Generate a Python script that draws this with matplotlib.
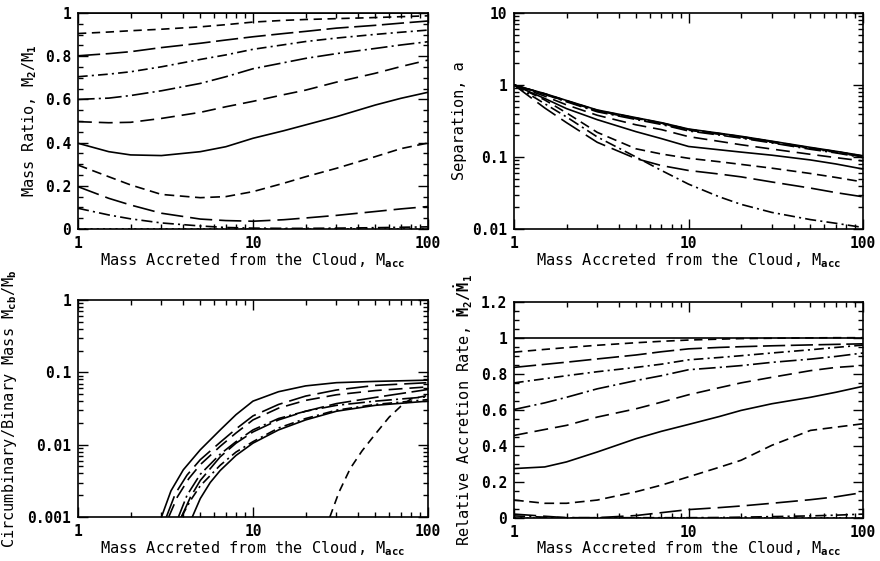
import matplotlib
matplotlib.use("Agg")
import matplotlib.pyplot as plt
from matplotlib.ticker import MultipleLocator, NullFormatter

plt.rcParams['font.family'] = ['DejaVu Sans Mono', 'DejaVu Sans']
plt.rcParams['font.weight'] = 'bold'
plt.rcParams['font.size'] = 11
plt.rcParams['mathtext.fontset'] = 'custom'
plt.rcParams['mathtext.rm'] = 'DejaVu Sans Mono:bold'
plt.rcParams['mathtext.it'] = 'DejaVu Sans Mono:bold'
plt.rcParams['mathtext.bf'] = 'DejaVu Sans Mono:bold'
plt.rcParams['lines.scale_dashes'] = False

# mass accreted from the cloud (shared x grid)
m_acc = [1, 1.5, 2, 3, 5, 7, 10, 15, 20, 30, 50, 70, 100]
q_start = ['0.0', '0.1', '0.2', '0.3', '0.4', '0.5', '0.6', '0.7', '0.8', '0.9', '1.0']

# mass ratio M2/M1
q_00 = [0, 0, 0, 0, 0, 0, 0, 0, 0, 0, 0, 0, 0]
q_01 = [0.096, 0.065, 0.047, 0.028, 0.014, 0.007, 0.004, 0.003, 0.003, 0.004, 0.006, 0.008, 0.010]
q_02 = [0.196, 0.142, 0.111, 0.073, 0.046, 0.039, 0.036, 0.043, 0.051, 0.063, 0.081, 0.093, 0.104]
q_03 = [0.296, 0.242, 0.204, 0.160, 0.145, 0.150, 0.173, 0.212, 0.242, 0.281, 0.335, 0.372, 0.398]
q_04 = [0.397, 0.358, 0.343, 0.340, 0.358, 0.381, 0.420, 0.455, 0.482, 0.520, 0.574, 0.605, 0.633]
q_05 = [0.497, 0.492, 0.494, 0.512, 0.540, 0.566, 0.591, 0.622, 0.643, 0.680, 0.721, 0.752, 0.782]
q_06 = [0.600, 0.606, 0.618, 0.640, 0.674, 0.705, 0.742, 0.770, 0.790, 0.812, 0.836, 0.852, 0.867]
q_07 = [0.705, 0.717, 0.728, 0.751, 0.785, 0.806, 0.832, 0.853, 0.868, 0.884, 0.901, 0.911, 0.921]
q_08 = [0.802, 0.812, 0.821, 0.840, 0.860, 0.875, 0.890, 0.905, 0.915, 0.930, 0.943, 0.953, 0.963]
q_09 = [0.905, 0.912, 0.918, 0.925, 0.936, 0.946, 0.958, 0.966, 0.970, 0.974, 0.979, 0.983, 0.987]
q_10 = [1, 1, 1, 1, 1, 1, 1, 1, 1, 1, 1, 1, 1]

# separation a
a_01 = [1, 0.55, 0.36, 0.19, 0.10, 0.065, 0.042, 0.028, 0.022, 0.017, 0.0135, 0.012, 0.0105]
a_02 = [1, 0.48, 0.30, 0.16, 0.095, 0.076, 0.065, 0.058, 0.053, 0.045, 0.037, 0.032, 0.028]
a_03 = [1, 0.62, 0.41, 0.22, 0.13, 0.11, 0.096, 0.086, 0.079, 0.070, 0.059, 0.052, 0.045]
a_04 = [1, 0.65, 0.47, 0.33, 0.225, 0.18, 0.140, 0.126, 0.117, 0.106, 0.091, 0.080, 0.068]
a_05 = [1, 0.70, 0.53, 0.38, 0.28, 0.24, 0.192, 0.165, 0.148, 0.129, 0.109, 0.098, 0.088]
a_06 = [1, 0.74, 0.585, 0.425, 0.332, 0.283, 0.230, 0.202, 0.183, 0.157, 0.128, 0.114, 0.098]
a_07 = [1, 0.745, 0.595, 0.435, 0.340, 0.290, 0.236, 0.207, 0.187, 0.160, 0.131, 0.116, 0.100]
a_08 = [1, 0.75, 0.60, 0.44, 0.345, 0.295, 0.240, 0.210, 0.190, 0.163, 0.133, 0.118, 0.102]
a_09 = [1, 0.755, 0.605, 0.445, 0.348, 0.297, 0.242, 0.212, 0.192, 0.164, 0.134, 0.119, 0.103]
a_10 = [1, 0.76, 0.61, 0.45, 0.352, 0.300, 0.245, 0.214, 0.194, 0.166, 0.136, 0.120, 0.104]

# circumbinary / binary mass (each curve starts at its own M_acc)
cb_x_1 = [3.0, 3.4, 4, 5, 6.5, 8, 10, 14, 20, 30, 50, 100]
cb_1 = [0.001, 0.0023, 0.0045, 0.0085, 0.016, 0.026, 0.040, 0.054, 0.065, 0.072, 0.075, 0.078]
cb_x_2 = [3.2, 3.6, 4.2, 5, 6.5, 8, 10, 14, 20, 30, 50, 100]
cb_2 = [0.001, 0.0021, 0.0038, 0.0062, 0.0108, 0.0165, 0.025, 0.036, 0.047, 0.057, 0.066, 0.072]
cb_x_3 = [3.3, 3.7, 4.3, 5, 6.5, 8, 10, 14, 20, 30, 50, 100]
cb_3 = [0.001, 0.0019, 0.0034, 0.0053, 0.0095, 0.0145, 0.022, 0.032, 0.041, 0.049, 0.056, 0.063]
cb_x_4 = [3.75, 4.2, 5, 6.5, 8, 10, 14, 20, 30, 50, 100]
cb_4 = [0.001, 0.002, 0.0039, 0.0074, 0.011, 0.016, 0.023, 0.029, 0.035, 0.040, 0.046]
cb_x_5 = [3.9, 4.4, 5, 6.5, 8, 10, 14, 20, 30, 50, 100]
cb_5 = [0.001, 0.0019, 0.0032, 0.0068, 0.0105, 0.015, 0.022, 0.029, 0.037, 0.045, 0.058]
cb_x_6 = [3.9, 4.4, 5, 6.5, 8, 10, 14, 20, 30, 50, 100]
cb_6 = [0.001, 0.0017, 0.0027, 0.0052, 0.0079, 0.011, 0.017, 0.023, 0.030, 0.036, 0.042]
cb_x_7 = [4.5, 5, 5.7, 6.5, 8, 10, 14, 20, 30, 50, 100]
cb_7 = [0.001, 0.0018, 0.003, 0.0044, 0.0071, 0.0105, 0.016, 0.022, 0.029, 0.035, 0.040]
cb_x_8 = [27.5, 31, 36, 42, 50, 60, 70, 80, 100]
cb_8 = [0.001, 0.0022, 0.0047, 0.0082, 0.014, 0.024, 0.034, 0.043, 0.048]
cb_start = ['0.4', '0.2', '0.5', '0.6', '0.8', '0.7', '1.0', '0.9']

# relative accretion rate
r_00 = [0, 0, 0, 0, 0, 0, 0, 0, 0, 0, 0, 0, 0]
r_01 = [0.010, 0.003, 0.0, 0.0, 0.0, 0.0, 0.0, 0.001, 0.003, 0.006, 0.010, 0.014, 0.020]
r_02 = [0.020, 0.008, 0.0, 0.0, 0.012, 0.028, 0.045, 0.056, 0.065, 0.080, 0.100, 0.116, 0.140]
r_03 = [0.098, 0.080, 0.080, 0.098, 0.144, 0.181, 0.227, 0.280, 0.319, 0.402, 0.485, 0.503, 0.522]
r_04 = [0.273, 0.282, 0.310, 0.365, 0.439, 0.480, 0.518, 0.562, 0.596, 0.633, 0.669, 0.697, 0.730]
r_05 = [0.457, 0.490, 0.513, 0.559, 0.605, 0.642, 0.683, 0.722, 0.749, 0.780, 0.817, 0.835, 0.845]
r_06 = [0.601, 0.638, 0.669, 0.716, 0.762, 0.789, 0.822, 0.835, 0.845, 0.863, 0.881, 0.896, 0.915]
r_07 = [0.749, 0.772, 0.789, 0.811, 0.835, 0.853, 0.877, 0.890, 0.900, 0.915, 0.933, 0.946, 0.959]
r_08 = [0.835, 0.852, 0.864, 0.882, 0.904, 0.922, 0.938, 0.946, 0.950, 0.955, 0.960, 0.963, 0.966]
r_09 = [0.920, 0.935, 0.945, 0.958, 0.972, 0.980, 0.987, 0.992, 0.995, 0.997, 0.999, 1.0, 1.0]
r_10 = [1, 1, 1, 1, 1, 1, 1, 1, 1, 1, 1, 1, 1]

# line style for each starting mass ratio
styles = {
    '1.0': '-',
    '0.9': (0, (6, 4)),
    '0.8': (0, (16, 4)),
    '0.7': (0, (7, 3, 1.5, 3)),
    '0.6': (0, (12, 3, 1.5, 3)),
    '0.5': (0, (10, 5)),
    '0.4': '-',
    '0.3': (0, (7, 4)),
    '0.2': (0, (16, 5)),
    '0.1': (0, (8, 3, 1.5, 3)),
    '0.0': (0, (1.5, 3)),
}
LW = 1.2
xlab = r'Mass Accreted from the Cloud, M$_{\rm acc}$'

fig = plt.figure(figsize=(8.8, 5.61), dpi=100)
ax_q = fig.add_axes([0.0886, 0.5918, 0.3977, 0.385])
ax_a = fig.add_axes([0.5841, 0.5918, 0.3966, 0.385])
ax_cb = fig.add_axes([0.0886, 0.0784, 0.3977, 0.3868])
ax_r = fig.add_axes([0.5841, 0.0772, 0.3966, 0.385])


def style_axes(ax):
    ax.set_xscale('log')
    ax.set_xlim(1, 100)
    ax.set_xticks([1, 10, 100], ['1', '10', '100'])
    ax.xaxis.set_minor_formatter(NullFormatter())
    ax.tick_params(which='both', direction='in', top=True, right=True, width=1.0)
    ax.tick_params(which='major', length=7, pad=5, labelsize=10.5)
    ax.tick_params(which='minor', length=3.5)
    for s in ax.spines.values():
        s.set_linewidth(1.2)
    ax.set_xlabel(xlab, labelpad=0)


# mass ratio
for key, ys in zip(q_start, [q_00, q_01, q_02, q_03, q_04, q_05, q_06, q_07, q_08, q_09, q_10]):
    ax_q.plot(m_acc, ys, color='black', lw=LW, ls=styles[key])
style_axes(ax_q)
ax_q.set_ylim(0, 1)
ax_q.set_yticks([0, 0.2, 0.4, 0.6, 0.8, 1], ['0', '0.2', '0.4', '0.6', '0.8', '1'])
ax_q.yaxis.set_minor_locator(MultipleLocator(0.05))
ax_q.set_ylabel(r'Mass Ratio, M$_2$/M$_1$')
ax_q.yaxis.set_label_coords(-0.111, 0.5)

# separation
for key, ys in zip(q_start[1:], [a_01, a_02, a_03, a_04, a_05, a_06, a_07, a_08, a_09, a_10]):
    ax_a.plot(m_acc, ys, color='black', lw=LW, ls=styles[key])
style_axes(ax_a)
ax_a.set_yscale('log')
ax_a.set_ylim(0.01, 10)
ax_a.set_yticks([0.01, 0.1, 1, 10], ['0.01', '0.1', '1', '10'])
ax_a.yaxis.set_minor_formatter(NullFormatter())
ax_a.set_ylabel('Separation, a')
ax_a.yaxis.set_label_coords(-0.135, 0.5)

# circumbinary mass
cb_x = [cb_x_1, cb_x_2, cb_x_3, cb_x_4, cb_x_5, cb_x_6, cb_x_7, cb_x_8]
cb_y = [cb_1, cb_2, cb_3, cb_4, cb_5, cb_6, cb_7, cb_8]
for key, xs, ys in zip(cb_start, cb_x, cb_y):
    ax_cb.plot(xs, ys, color='black', lw=LW, ls=styles[key])
style_axes(ax_cb)
ax_cb.set_yscale('log')
ax_cb.set_ylim(0.001, 1)
ax_cb.set_yticks([0.001, 0.01, 0.1, 1], ['0.001', '0.01', '0.1', '1'])
ax_cb.yaxis.set_minor_formatter(NullFormatter())
ax_cb.set_ylabel(r'Circumbinary/Binary Mass M$_{\rm cb}$/M$_{\rm b}$')
ax_cb.yaxis.set_label_coords(-0.169, 0.5)

# relative accretion rate
for key, ys in zip(q_start, [r_00, r_01, r_02, r_03, r_04, r_05, r_06, r_07, r_08, r_09, r_10]):
    ax_r.plot(m_acc, ys, color='black', lw=LW, ls=styles[key])
style_axes(ax_r)
ax_r.set_ylim(0, 1.2)
ax_r.set_yticks([0, 0.2, 0.4, 0.6, 0.8, 1, 1.2], ['0', '0.2', '0.4', '0.6', '0.8', '1', '1.2'])
ax_r.yaxis.set_minor_locator(MultipleLocator(0.05))
ax_r.set_ylabel(r'Relative Accretion Rate, $\dot{\rm M}_2/\dot{\rm M}_1$')
ax_r.yaxis.set_label_coords(-0.112, 0.5)

fig.savefig('out.png', dpi=100)
